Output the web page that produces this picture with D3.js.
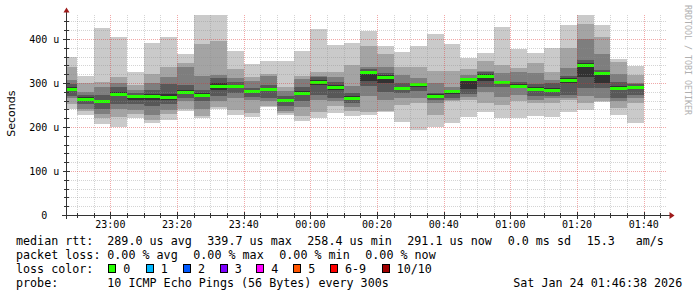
<!DOCTYPE html>
<html><head><meta charset="utf-8">
<script src="https://cdn.jsdelivr.net/npm/d3@7"></script>
<style>body{margin:0;background:#fff;overflow:hidden}</style>
</head><body><svg id="c" width="697" height="297"></svg>
<script>
// ---- data ----
const times = ["22:45","22:50","22:55","23:00","23:05","23:10","23:15","23:20","23:25","23:30",
  "23:35","23:40","23:45","23:50","23:55","00:00","00:05","00:10","00:15","00:20",
  "00:25","00:30","00:35","00:40","00:45","00:50","00:55","01:00","01:05","01:10",
  "01:15","01:20","01:25","01:30","01:35"];
const median = [287,264,258,276,270,270,268,280,273,293,293,281,287,261,278,303,291,267,325,314,
  289,298,270,281,309,317,302,294,286,285,307,340,323,289,291];
// sorted ping values (rank 1 = fastest ... rank 10 = slowest), microseconds
const ping1  = [241,228,207,200,221,208,217,237,220,240,227,223,246,228,214,221,231,225,227,233,211,193,201,208,223,235,220,220,225,223,235,239,257,227,210];
const ping2  = [252,236,220,223,229,217,229,240,225,245,239,231,248,231,225,235,248,236,233,236,250,254,227,260,261,254,250,258,254,254,261,255,260,244,254];
const ping3  = [265,241,229,240,239,228,239,258,240,260,265,262,260,236,246,261,259,246,270,261,265,267,254,262,268,280,269,273,261,265,265,270,265,258,265];
const ping4  = [270,252,241,252,252,248,252,265,258,270,278,269,266,248,258,273,265,254,294,280,277,282,261,265,274,292,292,288,271,271,273,288,288,265,273];
const ping5  = [283,258,254,270,262,262,262,276,268,285,288,277,281,258,272,296,285,264,305,299,285,292,266,276,286,305,298,291,282,280,300,314,300,285,287];
const ping6  = [290,268,262,280,272,274,275,284,278,300,296,284,289,264,282,307,295,271,328,318,292,300,274,282,305,320,303,297,290,288,312,345,325,293,294];
const ping7  = [298,273,273,290,278,284,298,295,284,312,303,288,295,270,290,313,302,277,331,322,301,301,277,285,310,326,305,303,297,299,316,352,330,303,297];
const ping8  = [307,280,290,300,285,300,313,337,316,319,311,305,316,282,308,316,314,293,337,336,318,311,299,292,318,327,322,324,323,307,333,400,365,320,299];
const ping9  = [336,299,303,313,295,320,337,345,389,396,332,313,320,290,316,324,326,341,385,367,337,336,328,327,332,350,342,335,345,324,380,434,405,347,318];
const ping10 = [359,316,425,404,326,392,405,365,470,468,373,343,350,351,373,423,387,390,419,383,370,383,411,389,357,369,427,377,369,380,432,462,432,355,339];
const yTickValues = [0,100,200,300,400];
const yTickLabels = ["0","100 u","200 u","300 u","400 u"];
const xTickLabels = ["23:00","23:20","23:40","00:00","00:20","00:40","01:00","01:20","01:40"];
const lossLabels = ["0","1","2","3","4","5","6-9","10/10"];
const lossColors = ["#26ff00","#00b8ff","#0059ff","#7e00ff","#ff00ff","#ff5500","#ff0000","#a10000"];
const smokeColors = ["#cacaca","#a4a4a4","#7e7e7e","#585858","#323232"];
const legendLine1 = [["median rtt:",16],["289.0 us avg",107.3],["339.7 us max",207.3],["258.4 us min",307.3],["291.1 us now",407.3],["0.0 ms sd",507.7],["15.3",586.7],["am/s",635.7]];
const legendLine2 = [["packet loss:",16],["0.00 % avg",107.3],["0.00 % max",193.3],["0.00 % min",279.3],["0.00 % now",365.3]];
const legendLine4 = [["probe:",16],["10 ICMP Echo Pings (56 Bytes) every 300s",107.3],["Sat Jan 24 01:46:38 2026",513.3]];
const lossBoxX = [108.3,145.7,183,219.7,256.3,293.3,330,381.7];

// ---- helpers ----
function toDate(hm){
  const [h,m] = hm.split(":").map(Number);
  return h >= 12 ? new Date(Date.UTC(2026,0,23,h,m)) : new Date(Date.UTC(2026,0,24,h,m));
}
const svg = d3.select("#c");
const mono = "'DejaVu Sans Mono', monospace";
const axisColor = "#333";

const x = d3.scaleUtc()
  .domain([new Date(Date.UTC(2026,0,23,22,46,38)), new Date(Date.UTC(2026,0,24,1,46,38))])
  .range([65.8, 665.8]);
const y = d3.scaleLinear().domain([0, 454.5]).range([215, 15]);

svg.append("rect").attr("width",697).attr("height",297).attr("fill","#fff");

svg.append("clipPath").attr("id","plot").append("rect")
  .attr("x",67).attr("y",15).attr("width",600).attr("height",200);

const pings = [ping1,ping2,ping3,ping4,ping5,ping6,ping7,ping8,ping9,ping10];
const bars = times.map((t,i)=>({t0:toDate(t), t1:d3.utcMinute.offset(toDate(t),5), p:pings.map(a=>a[i]), med:median[i]}));

const g = svg.append("g").attr("clip-path","url(#plot)");
bars.forEach(b=>{
  const x0 = Math.round(x(b.t0)), x1 = Math.round(x(b.t1));
  for(let k=0;k<5;k++){
    const lo = b.p[k], hi = b.p[9-k];
    const yt = Math.round(y(hi)), yb = Math.round(y(lo));
    g.append("rect").attr("x",x0).attr("width",x1-x0)
      .attr("y",yt).attr("height",Math.max(1,yb-yt))
      .attr("fill",smokeColors[k]).attr("shape-rendering","crispEdges");
  }
  const ym = Math.round(y(b.med));
  g.append("rect").attr("x",x0).attr("width",x1-x0).attr("y",ym-1).attr("height",3)
    .attr("fill",lossColors[0]).attr("shape-rendering","crispEdges");
});

// ---- grid (drawn on top, like rrdtool) ----
const grid = svg.append("g").attr("shape-rendering","crispEdges");
const minorT = x.ticks(d3.utcMinute.every(5));
const majorT = x.ticks(d3.utcMinute.every(20));
const isMajorT = t => t.getUTCMinutes() % 20 === 0;
minorT.filter(t=>!isMajorT(t)).forEach(t=>{
  const xx = Math.round(x(t))+0.5;
  grid.append("line").attr("x1",xx).attr("x2",xx).attr("y1",15).attr("y2",215)
    .attr("stroke","rgba(143,143,143,0.38)").attr("stroke-dasharray","1,1");
});
const yMinor = y.ticks(25).filter(v=>v>0 && v%100!==0);
yMinor.forEach(v=>{
  const yy = Math.round(y(v))+0.5;
  grid.append("line").attr("x1",67).attr("x2",667).attr("y1",yy).attr("y2",yy)
    .attr("stroke","rgba(143,143,143,0.38)").attr("stroke-dasharray","1,1");
});
majorT.forEach(t=>{
  const xx = Math.round(x(t))+0.5;
  grid.append("line").attr("x1",xx).attr("x2",xx).attr("y1",15).attr("y2",215)
    .attr("stroke","rgba(222,48,48,0.42)").attr("stroke-dasharray","1,1");
});
yTickValues.filter(v=>v>0).forEach(v=>{
  const yy = Math.round(y(v))+0.5;
  grid.append("line").attr("x1",67).attr("x2",667).attr("y1",yy).attr("y2",yy)
    .attr("stroke","rgba(222,48,48,0.42)").attr("stroke-dasharray","1,1");
});

// ---- axes ----
const ax = svg.append("g").attr("shape-rendering","crispEdges").attr("stroke",axisColor);
ax.append("line").attr("x1",66.5).attr("x2",66.5).attr("y1",10).attr("y2",219);
ax.append("line").attr("x1",62).attr("x2",670).attr("y1",215.5).attr("y2",215.5);
minorT.forEach(t=>{
  const xx = Math.round(x(t))+0.5, m = isMajorT(t);
  ax.append("line").attr("x1",xx).attr("x2",xx).attr("y1",m?212:213).attr("y2",m?219:218);
});
y.ticks(25).filter(v=>v>0).forEach(v=>{
  const yy = Math.round(y(v))+0.5, m = v%100===0;
  ax.append("line").attr("x1",m?63:64).attr("x2",m?70:69).attr("y1",yy).attr("y2",yy);
});
svg.append("path").attr("d","M63.5,12.5 L66.5,7.5 L69.5,12.5 Z").attr("fill","#9e1a1a");
svg.append("path").attr("d","M669.5,212 L674.5,215.5 L669.5,219 Z").attr("fill","#9e1a1a");

// ---- axis labels ----
yTickValues.forEach((v,i)=>{
  svg.append("text").attr("x",44.3).attr("y",y(v)+3.6).attr("text-anchor","middle")
    .attr("font-family",mono).attr("font-size","10px").attr("fill","#000").text(yTickLabels[i]);
});
xTickLabels.forEach(l=>{
  svg.append("text").attr("x",x(toDate(l))).attr("y",228.3).attr("text-anchor","middle")
    .attr("font-family",mono).attr("font-size","10px").attr("fill","#000").text(l);
});
svg.append("text").attr("transform","translate(15,113.7) rotate(-90)").attr("text-anchor","middle")
  .attr("font-family","'DejaVu Sans', sans-serif").attr("font-size","11px").attr("fill","#000").text("Seconds");
svg.append("text").attr("transform","translate(685,5) rotate(90)")
  .attr("font-family",mono).attr("font-size","8.3px").attr("fill","#b0b0b0").text("RRDTOOL / TOBI OETIKER");

// ---- legend ----
function legendRow(items, yb){
  items.forEach(([t,xx])=>{
    svg.append("text").attr("x",xx).attr("y",yb).attr("font-family",mono)
      .attr("font-size","11.7px").attr("fill","#000").attr("xml:space","preserve").text(t);
  });
}
legendRow(legendLine1, 244.6);
legendRow(legendLine2, 258.9);
legendRow([["loss color:",16]], 273.1);
lossLabels.forEach((l,i)=>{
  svg.append("rect").attr("x",lossBoxX[i]+0.5).attr("y",264.5).attr("width",7).attr("height",8)
    .attr("fill",lossColors[i]).attr("stroke","#000").attr("stroke-width",1).attr("shape-rendering","crispEdges");
  svg.append("text").attr("x",lossBoxX[i]+15).attr("y",273.1).attr("font-family",mono)
    .attr("font-size","11.7px").attr("fill","#000").text(l);
});
legendRow(legendLine4, 287.3);
</script></body></html>
